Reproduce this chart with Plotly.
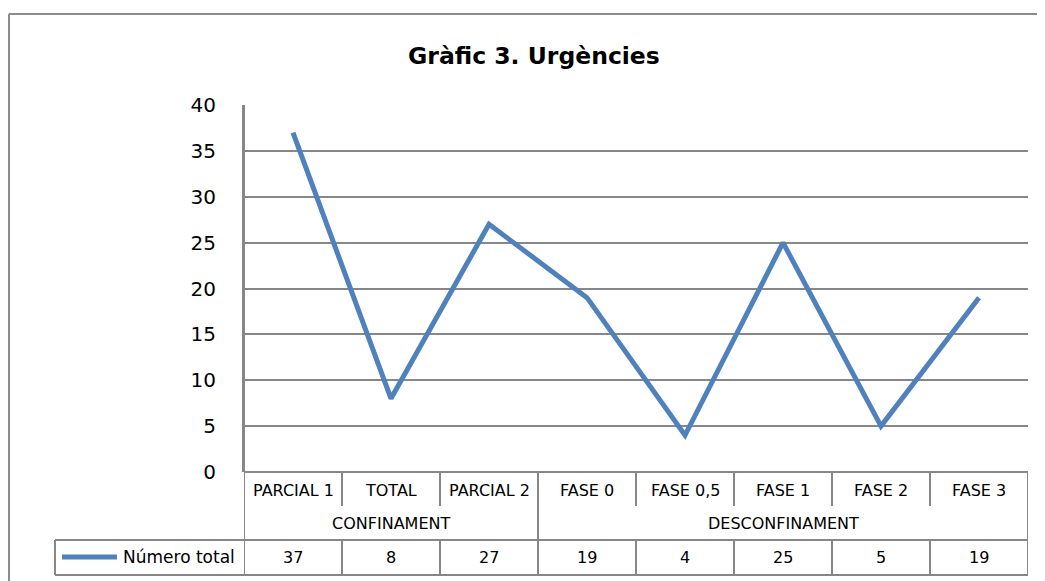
import plotly.graph_objects as go

# ---- data ----
categories = ["PARCIAL 1", "TOTAL", "PARCIAL 2", "FASE 0", "FASE 0,5", "FASE 1", "FASE 2", "FASE 3"]
groups = ["CONFINAMENT", "DESCONFINAMENT"]
group_spans = [(0, 2), (3, 7)]  # first and last category index of each group
series_name = "Número total"
values = [37, 8, 27, 19, 4, 25, 5, 19]
title_text = "Gràfic 3. Urgències"

W, H = 1045, 581
OFF = 8  # page body margin offset of the figure
FONT = "DejaVu Sans"
GRID = "#878787"
BLUE = "#4F81BD"


def px(x):
    return (x - OFF) / W


def py(y):
    return 1 - (y - OFF) / H


fig = go.Figure()
fig.add_trace(go.Scatter(
    x=categories, y=values, mode="lines", name=series_name,
    line=dict(color=BLUE, width=5), showlegend=False,
))

PLOT_L, PLOT_R, PLOT_T, PLOT_B = 244, 1028, 105, 472
ROW1_B, ROW2_B, ROW3_B = 506, 540, 575
LEG_L = 55

shapes = []


def hline(x0, x1, y, w=2):
    shapes.append(dict(type="line", xref="paper", yref="paper", x0=px(x0), x1=px(x1),
                       y0=py(y), y1=py(y), line=dict(color=GRID, width=w)))


def vline_cat(k, y0, y1, w=2):
    shapes.append(dict(type="line", xref="x", yref="paper", x0=k - 0.5, x1=k - 0.5,
                       y0=py(y0), y1=py(y1), line=dict(color=GRID, width=w)))


# outer frame (left and top edges visible)
shapes.append(dict(type="line", xref="paper", yref="paper", x0=px(9), x1=px(1060), y0=py(14), y1=py(14),
                   line=dict(color="#8c8c8c", width=2)))
shapes.append(dict(type="line", xref="paper", yref="paper", x0=px(9), x1=px(9), y0=py(14), y1=py(600),
                   line=dict(color="#8c8c8c", width=2)))

# table horizontal lines
hline(PLOT_L, PLOT_R, PLOT_B)
hline(LEG_L, PLOT_R, ROW2_B)
hline(LEG_L, PLOT_R, ROW3_B)
# legend cell left edge
shapes.append(dict(type="line", xref="paper", yref="paper", x0=px(LEG_L), x1=px(LEG_L),
                   y0=py(ROW2_B), y1=py(ROW3_B), line=dict(color=GRID, width=2)))
# category boundaries
group_edges = {0, len(categories)} | {s[0] for s in group_spans}
for k in range(len(categories) + 1):
    if k in group_edges:
        vline_cat(k, PLOT_B if k else PLOT_T, ROW3_B)
    else:
        vline_cat(k, PLOT_B, ROW1_B)
        vline_cat(k, ROW2_B, ROW3_B)

# legend key line
shapes.append(dict(type="line", xref="paper", yref="paper", x0=px(62), x1=px(117),
                   y0=py(557), y1=py(557), line=dict(color=BLUE, width=5)))

TXT = dict(family=FONT, color="black")
annotations = [dict(text="<b>%s</b>" % title_text, xref="paper", yref="paper",
                    x=px(534), y=py(56), xanchor="center", yanchor="middle", showarrow=False,
                    font=dict(TXT, size=23.5))]
for c in categories:
    annotations.append(dict(text=c, xref="x", yref="paper", x=c, y=py(490),
                            xanchor="center", yanchor="middle", showarrow=False,
                            font=dict(TXT, size=16)))
for (a, b), g in zip(group_spans, groups):
    annotations.append(dict(text=g, xref="x", yref="paper", x=(a + b) / 2, y=py(523),
                            xanchor="center", yanchor="middle", showarrow=False,
                            font=dict(TXT, size=16)))
for c, v in zip(categories, values):
    annotations.append(dict(text=str(v), xref="x", yref="paper", x=c, y=py(557),
                            xanchor="center", yanchor="middle", showarrow=False,
                            font=dict(TXT, size=16)))
annotations.append(dict(text=series_name, xref="paper", yref="paper", x=px(237), y=py(557),
                        xanchor="right", yanchor="middle", showarrow=False,
                        font=dict(TXT, size=17)))

fig.update_layout(
    width=W, height=H,
    margin=dict(l=0, r=0, t=0, b=0, autoexpand=False),
    paper_bgcolor="white", plot_bgcolor="white",
    xaxis=dict(type="category", range=[-0.5, len(categories) - 0.5],
               domain=[px(PLOT_L), px(PLOT_R)], automargin=False,
               showticklabels=False, showgrid=False, showline=False, zeroline=False),
    yaxis=dict(range=[0, 40], dtick=5, domain=[py(PLOT_B), py(PLOT_T)], automargin=False,
               showgrid=True, gridcolor=GRID, gridwidth=1.6,
               showline=True, linecolor=GRID, linewidth=2, zeroline=False,
               ticks="", ticklabelstandoff=22,
               tickfont=dict(TXT, size=20)),
    shapes=shapes,
    annotations=annotations,
)

fig.write_html("out.html")
